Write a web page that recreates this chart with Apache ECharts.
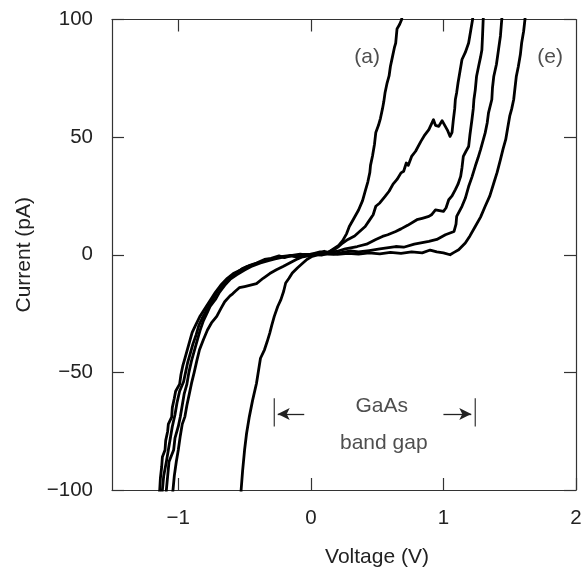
<!DOCTYPE html>
<html>
<head>
<meta charset="utf-8">
<script src="https://cdn.jsdelivr.net/npm/echarts@6/dist/echarts.min.js"></script>
<style>
html,body{margin:0;padding:0;background:#fff;}
#chart{width:581px;height:571px;}
</style>
</head>
<body>
<div id="chart"></div>
<script>
// Axis tick values
const xTicks = [-1, 0, 1, 2];
const xTopTicks = [-1, 0, 1];

// Curves: [Voltage (V), Current (pA)]
const curveA = [[-1.15,-105],[-1.14,-100],[-1.135,-95],[-1.125,-90],[-1.12,-86],[-1.10,-83],[-1.095,-79],[-1.08,-75],[-1.075,-72],[-1.05,-69],[-1.045,-65],[-1.03,-61],[-1.02,-58],[-0.99,-55],[-0.98,-51],[-0.965,-47],[-0.95,-44],[-0.93,-40],[-0.91,-36],[-0.895,-33],[-0.87,-30],[-0.835,-26],[-0.80,-23],[-0.755,-19],[-0.72,-16],[-0.68,-13],[-0.63,-10],[-0.585,-8],[-0.53,-6.5],[-0.48,-5],[-0.40,-3.5],[-0.34,-2.5],[-0.25,-1],[-0.21,-0.7],[-0.15,-0.3],[-0.10,-0.8],[-0.05,0.2],[0.0,0],[0.05,0.6],[0.10,1.5],[0.13,1.0],[0.17,2.5],[0.21,4],[0.24,6],[0.27,9],[0.29,12],[0.32,15],[0.36,19],[0.39,23],[0.41,27],[0.43,31],[0.445,35],[0.45,38],[0.465,42],[0.48,47],[0.49,52],[0.51,55],[0.525,58],[0.54,62],[0.55,65],[0.56,69],[0.575,73],[0.59,76],[0.60,80],[0.615,84],[0.63,88],[0.64,90],[0.645,93],[0.65,96],[0.67,98],[0.685,100],[0.69,104]];

const curveB = [[-1.13,-105],[-1.12,-100],[-1.11,-94],[-1.09,-88],[-1.075,-83],[-1.06,-78],[-1.045,-73],[-1.025,-68],[-1.01,-63],[-0.99,-58],[-0.96,-54],[-0.945,-50],[-0.93,-46],[-0.91,-42],[-0.89,-38],[-0.865,-34],[-0.845,-30],[-0.82,-27],[-0.79,-24],[-0.76,-21],[-0.73,-18],[-0.70,-15],[-0.66,-12.5],[-0.62,-10],[-0.57,-8],[-0.52,-6],[-0.46,-4.5],[-0.41,-3.5],[-0.35,-2],[-0.30,-1.5],[-0.24,-0.5],[-0.20,-1.2],[-0.14,-0.3],[-0.08,0.3],[-0.03,-0.2],[0.02,0.5],[0.07,1.2],[0.12,0.8],[0.17,2],[0.21,3.5],[0.24,5],[0.28,6.5],[0.33,8],[0.37,10],[0.41,12],[0.44,14.5],[0.47,17],[0.49,20.6],[0.52,22],[0.56,24.8],[0.59,27],[0.62,30],[0.65,32],[0.68,34.8],[0.70,35.5],[0.72,39],[0.735,38],[0.76,41.8],[0.79,44],[0.83,48.2],[0.86,51],[0.89,53.2],[0.925,57.4],[0.94,55],[0.965,54.6],[0.99,57],[1.0,56.7],[1.03,53],[1.05,50.3],[1.065,52],[1.075,57.4],[1.085,62],[1.09,66],[1.10,69],[1.11,73],[1.125,78],[1.14,83],[1.165,86],[1.19,90],[1.205,95],[1.22,100],[1.225,104]];

const curveC = [[-1.10,-105],[-1.09,-100],[-1.08,-94],[-1.07,-88],[-1.035,-83],[-1.025,-78],[-1.0,-73],[-0.985,-69],[-0.97,-64],[-0.955,-59],[-0.935,-55],[-0.92,-50],[-0.90,-45],[-0.875,-40],[-0.855,-36],[-0.835,-32],[-0.81,-28],[-0.785,-25],[-0.76,-22],[-0.72,-19],[-0.69,-16],[-0.65,-13],[-0.61,-10.5],[-0.56,-8.5],[-0.50,-6.5],[-0.45,-5],[-0.38,-3.5],[-0.32,-2.5],[-0.27,-1.8],[-0.21,-1],[-0.15,-0.5],[-0.10,-1],[-0.04,0],[0.02,0.3],[0.08,-0.2],[0.14,0.8],[0.20,1.5],[0.26,2.5],[0.35,3.5],[0.42,4.5],[0.49,6.5],[0.54,7.8],[0.58,8.5],[0.64,9.9],[0.68,11],[0.73,12.5],[0.80,14.9],[0.84,15.5],[0.89,16.3],[0.91,17],[0.94,19.1],[1.0,18.4],[1.02,20],[1.04,23.4],[1.065,25],[1.09,27.7],[1.11,30],[1.13,33.3],[1.14,37],[1.15,41.8],[1.17,44],[1.19,46],[1.20,51],[1.215,57.4],[1.225,62],[1.23,66],[1.24,70],[1.25,75.9],[1.265,80],[1.28,84],[1.29,87],[1.295,93],[1.30,100],[1.305,104]];

const curveD = [[-1.05,-105],[-1.04,-100],[-1.03,-94],[-1.015,-88],[-1.0,-83],[-0.985,-77],[-0.97,-72],[-0.95,-68.8],[-0.935,-64],[-0.92,-60],[-0.90,-54.6],[-0.88,-50],[-0.86,-45],[-0.84,-40.4],[-0.81,-36],[-0.78,-32],[-0.75,-29],[-0.71,-26.2],[-0.68,-23],[-0.65,-20],[-0.61,-17.5],[-0.59,-16.6],[-0.57,-15.5],[-0.54,-14],[-0.50,-13.5],[-0.41,-12.3],[-0.36,-10],[-0.31,-8],[-0.26,-6.4],[-0.21,-5],[-0.16,-3.5],[-0.11,-2],[-0.07,-1],[-0.02,-0.5],[0.03,0.3],[0.10,0.6],[0.17,0.3],[0.24,1.0],[0.30,1.6],[0.36,1.2],[0.44,1.8],[0.52,2.5],[0.64,3.5],[0.70,3.2],[0.78,4.5],[0.89,5.7],[0.95,6.5],[1.015,8.5],[1.08,9.9],[1.095,13],[1.10,16.3],[1.14,20.6],[1.165,24],[1.19,29],[1.215,33],[1.24,37.6],[1.26,41],[1.28,44.7],[1.315,51.8],[1.33,56],[1.34,60.3],[1.365,66],[1.37,71],[1.38,75.9],[1.40,81],[1.415,87],[1.43,93],[1.44,100],[1.445,104]];

const curveE = [[-0.53,-105],[-0.526,-100],[-0.515,-92],[-0.50,-83],[-0.485,-76],[-0.464,-68.8],[-0.44,-62],[-0.41,-54.6],[-0.39,-47.5],[-0.38,-44],[-0.35,-40.4],[-0.33,-37],[-0.31,-33.3],[-0.295,-30],[-0.276,-26.2],[-0.25,-22],[-0.226,-19.1],[-0.205,-15.5],[-0.19,-12],[-0.165,-10],[-0.14,-7.8],[-0.10,-5.5],[-0.06,-3.5],[-0.03,-2],[0.01,-0.7],[0.06,0],[0.12,0.4],[0.20,0.2],[0.28,0.6],[0.36,0.3],[0.44,0.8],[0.52,0.4],[0.60,1],[0.68,0.6],[0.76,1.2],[0.84,0.8],[0.90,2],[0.95,1.2],[1.0,0.8],[1.05,0],[1.08,1],[1.115,2.1],[1.165,5],[1.20,8],[1.24,12],[1.28,16],[1.315,20.6],[1.35,25],[1.38,30.5],[1.405,35],[1.43,40.4],[1.45,45],[1.47,49],[1.485,54],[1.50,58.9],[1.515,62],[1.53,66],[1.54,71],[1.55,75.9],[1.565,80],[1.58,85],[1.59,90],[1.605,95],[1.615,100],[1.62,104]];

// Annotations
const curveLabels = [{name:'(a)', value:[0.425, 84]}, {name:'(e)', value:[1.805, 84]}];
const gapText = [{name:'GaAs', value:[0.534, -64.5]}, {name:'band gap', value:[0.55, -80]}];
const gapLeftBar = [[-0.276, -61], [-0.276, -73]];
const gapRightBar = [[1.24, -61], [1.24, -73]];
const gapLeftArrow = [[-0.05, -67.7], [-0.25, -67.7]];
const gapRightArrow = [[1.0, -67.7], [1.21, -67.7]];

const FONT = '"Liberation Sans", Arial, Helvetica, sans-serif';
const minus = v => String(v).replace('-', '\u2212');

const chart = echarts.init(document.getElementById('chart'), null, {renderer:'canvas'});

function curveSeries(data) {
  return {type:'line', data:data, showSymbol:false, symbol:'none', smooth:false,
    lineStyle:{color:'#000', width:2.8, join:'round'}, clip:true, silent:true, z:3};
}
function segSeries(data, w) {
  return {type:'line', data:data, symbol:'none', showSymbol:false,
    lineStyle:{color:'#333', width:w}, silent:true, z:4};
}
function arrowSeries(pts) {
  return {type:'line', data:[], symbol:'none', silent:true,
    markLine:{silent:true, symbol:['none','arrow'], symbolSize:[9,12],
      label:{show:false}, lineStyle:{color:'#222', width:1.3, type:'solid'},
      data:[[{coord:pts[0]},{coord:pts[1]}]]}};
}
function textSeries(data, size) {
  return {type:'scatter', data:data, symbolSize:1, itemStyle:{color:'rgba(0,0,0,0)'}, silent:true,
    label:{show:true, position:'inside', formatter:'{b}', fontFamily:FONT, fontSize:size, color:'#222'}, z:5};
}

const axisLineStyle = {color:'#333', width:1.2};

chart.setOption({
  animation:false,
  backgroundColor:'#fff',
  grid:{left:112, right:5, top:19.5, bottom:81, containLabel:false, outerBoundsMode:'none'},
  xAxis:[
    {type:'value', min:-1.5, max:2, position:'bottom',
     axisLine:{show:true, onZero:false, lineStyle:axisLineStyle},
     axisTick:{show:true, inside:true, length:12, customValues:xTicks, lineStyle:axisLineStyle},
     axisLabel:{show:true, customValues:xTicks, formatter:minus, fontFamily:FONT, fontSize:20.5, color:'#222', margin:18},
     splitLine:{show:false},
     name:'Voltage (V)', nameLocation:'middle', nameGap:57,
     nameTextStyle:{fontFamily:FONT, fontSize:21, color:'#222', padding:[0,0,0,66]}},
    {type:'value', min:-1.5, max:2, position:'top',
     axisLine:{show:true, onZero:false, lineStyle:axisLineStyle},
     axisTick:{show:true, inside:true, length:12, customValues:xTopTicks, lineStyle:axisLineStyle},
     axisLabel:{show:false}, splitLine:{show:false}}
  ],
  yAxis:[
    {type:'value', min:-100, max:100, interval:50, position:'left',
     axisLine:{show:true, onZero:false, lineStyle:axisLineStyle},
     axisTick:{show:true, inside:true, length:12, lineStyle:axisLineStyle},
     axisLabel:{show:true, formatter:minus, fontFamily:FONT, fontSize:20.5, color:'#222', margin:19},
     splitLine:{show:false},
     name:'Current (pA)', nameLocation:'middle', nameGap:77,
     nameTextStyle:{fontFamily:FONT, fontSize:21, color:'#222'}},
    {type:'value', min:-100, max:100, interval:50, position:'right',
     axisLine:{show:true, onZero:false, lineStyle:axisLineStyle},
     axisTick:{show:true, inside:true, length:12, lineStyle:axisLineStyle},
     axisLabel:{show:false}, splitLine:{show:false}}
  ],
  series:[
    curveSeries(curveA), curveSeries(curveB), curveSeries(curveC), curveSeries(curveD), curveSeries(curveE),
    segSeries(gapLeftBar, 1.2), segSeries(gapRightBar, 1.2),
    arrowSeries(gapLeftArrow), arrowSeries(gapRightArrow),
    textSeries(curveLabels, 21), textSeries(gapText, 21)
  ]
});
</script>
</body>
</html>
